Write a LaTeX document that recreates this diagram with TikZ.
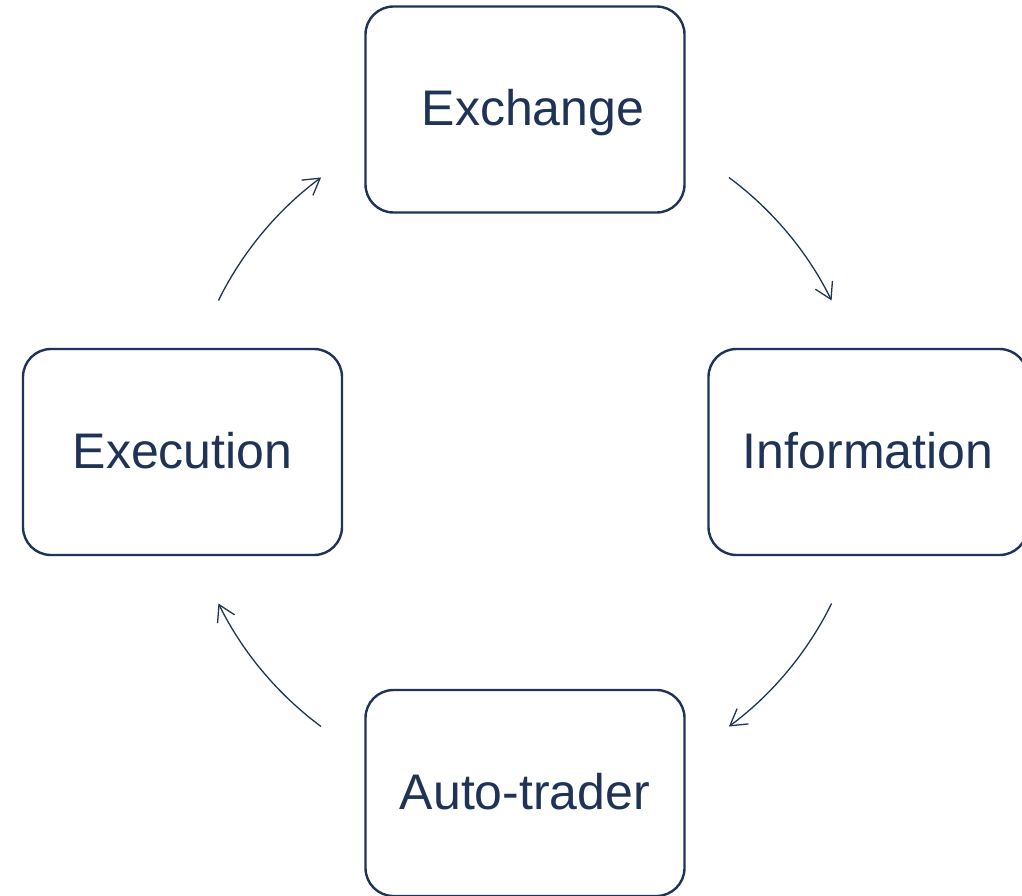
\documentclass[tikz,border=0pt]{standalone}
\usepackage{fontspec}
\setmainfont{Liberation Sans}
\usetikzlibrary{arrows.meta}
\definecolor{navy}{RGB}{31,51,87}
\begin{document}
\begin{tikzpicture}[x=1pt,y=1pt,
  stagebox/.style={draw=navy,line width=2.4pt,rounded corners=28pt,fill=white,
    minimum width=319pt,minimum height=206pt,inner sep=0pt,
    text=navy,font=\fontsize{50}{60}\selectfont,text height=34pt,text depth=2pt},
  cyclearrow/.style={draw=navy,line width=1.3pt,-{Straight Barb[length=16pt,width=19pt,line width=1.3pt]}}]
\useasboundingbox (0,0) rectangle (1022,-896);
\node[stagebox] (exchange) at (525,-109.5) {\hspace*{16pt}Exchange};
\node[stagebox] (information) at (868,-452) {Information};
\node[stagebox] (execution) at (182.5,-452) {Execution};
\node[stagebox] (autotrader) at (525,-793) {Auto-trader};
\coordinate (hub) at (525,-452);
\draw[cyclearrow] (hub) ++(53.4:342) arc[start angle=53.4,end angle=26.3,radius=342];
\draw[cyclearrow] (hub) ++(-26.3:342) arc[start angle=-26.3,end angle=-53.4,radius=342];
\draw[cyclearrow] (hub) ++(233.4:342) arc[start angle=233.4,end angle=206.3,radius=342];
\draw[cyclearrow] (hub) ++(153.7:342) arc[start angle=153.7,end angle=126.6,radius=342];
\end{tikzpicture}
\end{document}
